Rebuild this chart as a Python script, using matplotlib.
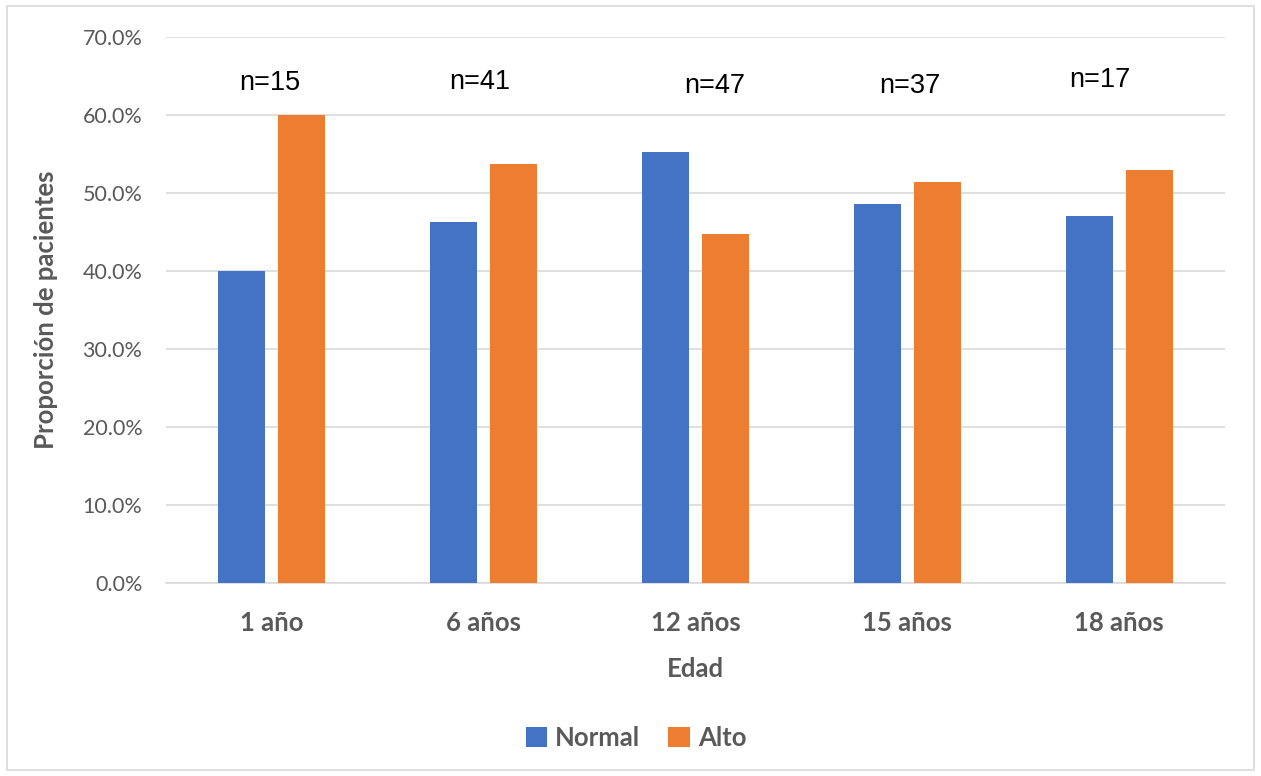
import matplotlib
matplotlib.use("Agg")
import matplotlib.pyplot as plt
import numpy as np
from matplotlib.patches import Rectangle

categories = ["1 año", "6 años", "12 años", "15 años", "18 años"]
normal = [40.0, 46.3, 55.3, 48.6, 47.1]
alto = [60.0, 53.7, 44.7, 51.4, 52.9]
n_labels = ["n=15", "n=41", "n=47", "n=37", "n=17"]
n_x = [-0.01, 0.98, 2.09, 3.01, 3.91]
n_y = [64.1, 64.2, 63.7, 63.7, 64.5]
y_ticks = [0, 10, 20, 30, 40, 50, 60, 70]

BLUE = "#4472C4"
ORANGE = "#ED7D31"
GRAY = "#595959"
GRID = "#D9D9D9"
FONT = ["Lato", "DejaVu Sans"]

fig = plt.figure(figsize=(12.61, 7.76), dpi=100)
fig.patches.append(Rectangle((7 / 1261, 6 / 776), 1247 / 1261, 764 / 776,
                             transform=fig.transFigure, fill=False,
                             edgecolor="#D9D9D9", linewidth=1.2))

ax = fig.add_axes([166 / 1261, (776 - 583) / 776, 1059 / 1261, 546 / 776])
x = np.arange(len(categories))
off = 0.142
w = 0.222
ax.bar(x - off, normal, width=w, color=BLUE, label="Normal", zorder=3)
ax.bar(x + off, alto, width=w, color=ORANGE, label="Alto", zorder=3)

for xi, yi, t in zip(n_x, n_y, n_labels):
    ax.text(xi, yi, t, ha="center", va="center", fontsize=19.5,
            family=["Liberation Sans", "DejaVu Sans"], color="black")

ax.set_xlim(-0.5, len(categories) - 0.5)
ax.set_ylim(0, 70)
ax.set_yticks(y_ticks)
ax.set_yticklabels([f"{v:.1f}%" for v in y_ticks], family=FONT, fontsize=15.5, color=GRAY)
ax.set_xticks(x)
ax.set_xticklabels(categories, family=FONT, fontsize=18.5, fontweight="bold", color=GRAY)
ax.tick_params(axis="both", length=0)
ax.tick_params(axis="y", pad=17)
ax.tick_params(axis="x", pad=20)

ax.grid(axis="y", color=GRID, linewidth=1.2, zorder=0)
for s in ["top", "right", "left"]:
    ax.spines[s].set_visible(False)
ax.spines["bottom"].set_color(GRID)
ax.spines["bottom"].set_linewidth(1.2)

ax.set_xlabel("Edad", family=FONT, fontsize=18.5, fontweight="bold", color=GRAY, labelpad=16)
ax.set_ylabel("Proporción de pacientes", family=FONT, fontsize=18.5, fontweight="bold",
              color=GRAY, labelpad=18)

leg = fig.legend(loc="center", bbox_to_anchor=(636 / 1261, 1 - 738 / 776), ncol=2,
                 frameon=False, handlelength=0.85, handleheight=0.85, columnspacing=1.1,
                 handletextpad=0.3,
                 prop={"family": FONT, "size": 18.5, "weight": "bold"})
for t in leg.get_texts():
    t.set_color(GRAY)

fig.savefig("out.png", dpi=100, facecolor="white")
